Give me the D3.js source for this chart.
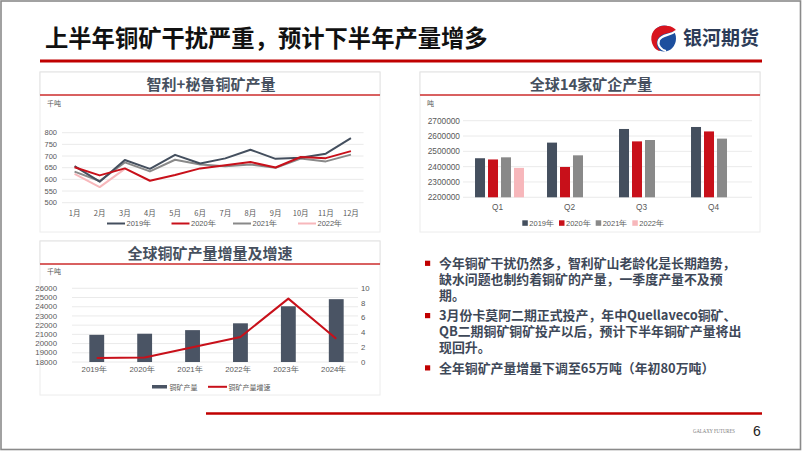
<!DOCTYPE html>
<html><head><meta charset="utf-8">
<script src="https://cdn.jsdelivr.net/npm/d3@7/dist/d3.min.js"></script>
<style>
html,body{margin:0;padding:0;background:#fff;}
svg{display:block;}
</style></head>
<body>
<svg id="c" width="802" height="451"></svg>
<script>
// ---------- DATA ----------
const months = ["1月","2月","3月","4月","5月","6月","7月","8月","9月","10月","11月","12月"];
const lineYears = ["2019年","2020年","2021年","2022年"];
const chileperu2019 = [657,590,683,645,705,668,690,727,688,693,710,777];
const chileperu2020 = [652,617,647,594,619,647,660,674,651,696,691,721];
const chileperu2021 = [633,593,673,634,684,664,656,664,650,689,677,706];
const chileperu2022 = [624,567,645];
const lineTicks = [500,550,600,650,700,750,800];

const quarters = ["Q1","Q2","Q3","Q4"];
const miners2019 = [2455000,2557000,2646000,2659000];
const miners2020 = [2447000,2398000,2565000,2630000];
const miners2021 = [2461000,2474000,2574000,2583000];
const miners2022 = [2392000];
const minerTicks = [2200000,2300000,2400000,2500000,2600000,2700000];

const prodYears = ["2019年","2020年","2021年","2022年","2023年","2024年"];
const globalOutput = [20950,21070,21460,22200,24050,24820];
const globalGrowth = [0.55,0.6,2.0,3.4,8.6,3.15];
const outputTicks = [18000,19000,20000,21000,22000,23000,24000,25000,26000];
const growthTicks = [0,2,4,6,8,10];

const bullets = [
  ["今年铜矿干扰仍然多，智利矿山老龄化是长期趋势，","缺水问题也制约着铜矿的产量，一季度产量不及预","期。"],
  ["3月份卡莫阿二期正式投产，年中Quellaveco铜矿、","QB二期铜矿铜矿投产以后，预计下半年铜矿产量将出","现回升。"],
  ["全年铜矿产量增量下调至65万吨（年初80万吨）"]
];

// ---------- STYLE ----------
const CJK = "'Noto Sans CJK SC','Noto Sans',sans-serif";
const NUM = "'Liberation Sans',Arial,sans-serif";
const cDark = "#444f5e", cRed = "#c8101a", cGray = "#898989", cPink = "#f7b7bb";
const axisTxt = "#595959", grid = "#e4e4e4";
const seriesColors = [cDark, cRed, cGray, cPink];

const svg = d3.select("#c");
svg.append("rect").attr("width",802).attr("height",451).attr("fill","#fff");
svg.append("rect").attr("x",1).attr("y",1).attr("width",799.5).attr("height",448.5)
  .attr("fill","none").attr("stroke","#8a8a8a").attr("stroke-width",1.6);

// header
svg.append("text").attr("x",45).attr("y",47).text("上半年铜矿干扰严重，预计下半年产量增多")
  .attr("font-family",CJK).attr("font-weight","bold").attr("font-size",23.3).attr("fill","#111");
svg.append("line").attr("x1",40).attr("x2",762).attr("y1",61).attr("y2",61)
  .attr("stroke","#c00000").attr("stroke-width",3);

// logo
const logo = svg.append("g");
logo.append("ellipse").attr("cx",664).attr("cy",38.5).attr("rx",12).attr("ry",13).attr("fill","#1d4f9e");
logo.append("path").attr("d","M668,26 C656,24 649,33 652,43 C654,49 658,51 660,51 C655,45 656,38 662,35 C666,33 672,33 676,30 C674,28 671,26 668,26 Z").attr("fill","#d8141e");
logo.append("path").attr("d","M676,31 C670,36 662,34 659,40 C657,45 661,50 666,51").attr("fill","none").attr("stroke","#fff").attr("stroke-width",2.2);
svg.append("text").attr("x",683).attr("y",45).text("银河期货")
  .attr("font-family",CJK).attr("font-size",19).attr("font-weight","bold").attr("fill","#2c3b57");

// panel helper
function panel(x, y, w, h, title, cx) {
  svg.append("rect").attr("x",x).attr("y",y).attr("width",w).attr("height",h)
    .attr("fill","none").attr("stroke","#ececec").attr("stroke-width",1);
  svg.append("rect").attr("x",x).attr("y",y).attr("width",w).attr("height",23)
    .attr("fill","#fff").attr("stroke","#e2e2e2").attr("stroke-width",1);
  svg.append("line").attr("x1",x).attr("x2",x+w).attr("y1",y+23).attr("y2",y+23)
    .attr("stroke","#d03030").attr("stroke-width",1.5);
  svg.append("text").attr("x",cx).attr("y",y+18).attr("text-anchor","middle").text(title)
    .attr("font-family",CJK).attr("font-weight","bold").attr("font-size",15).attr("fill","#46505e");
}

// ---------- Chart 1: line ----------
panel(40,72,340,160,"智利+秘鲁铜矿产量",211);
svg.append("text").attr("x",47).attr("y",106).text("千吨").attr("font-family",CJK).attr("font-size",7).attr("fill",axisTxt);
const x1 = d3.scaleBand().domain(months).range([62,363.5]);
const y1 = d3.scaleLinear().domain([500,800]).range([202.7,132.7]);
const g1 = svg.append("g");
g1.selectAll("line.g").data(lineTicks).join("line").attr("x1",62).attr("x2",363.5)
  .attr("y1",d=>y1(d)).attr("y2",d=>y1(d)).attr("stroke",grid).attr("stroke-width",0.8);
g1.selectAll("text.y").data(lineTicks).join("text").attr("x",57).attr("y",d=>y1(d)+2.7)
  .attr("text-anchor","end").text(d=>d).attr("font-family",NUM).attr("font-size",7.5).attr("fill",axisTxt);
g1.selectAll("text.x").data(months).join("text").attr("x",d=>x1(d)+x1.bandwidth()/2).attr("y",216)
  .attr("text-anchor","middle").text(d=>d).attr("font-family",CJK).attr("font-size",7.5).attr("fill",axisTxt);
const lineSeries = [chileperu2021, chileperu2022, chileperu2019, chileperu2020];
const lineColorOrder = [cGray, cPink, cDark, cRed];
const lineGen = d3.line().x((d,i)=>x1(months[i])+x1.bandwidth()/2).y(d=>y1(d));
lineSeries.forEach((s,k)=>{
  g1.append("path").datum(s).attr("d",lineGen).attr("fill","none")
    .attr("stroke",lineColorOrder[k]).attr("stroke-width",2).attr("stroke-linejoin","round");
});
const leg1 = [107,171.5,233,298];
lineYears.forEach((t,i)=>{
  g1.append("line").attr("x1",leg1[i]).attr("x2",leg1[i]+18).attr("y1",223.5).attr("y2",223.5)
    .attr("stroke",seriesColors[i]).attr("stroke-width",2);
  g1.append("text").attr("x",leg1[i]+19.5).attr("y",226.2).text(t)
    .attr("font-family",NUM).attr("font-size",7.5).attr("fill",axisTxt);
});

// ---------- Chart 2: grouped bars ----------
panel(420,72,340,160,"全球14家矿企产量",591);
svg.append("text").attr("x",427).attr("y",106).text("吨").attr("font-family",CJK).attr("font-size",7).attr("fill",axisTxt);
const x2 = d3.scaleBand().domain(quarters).range([463.5,751.5]).paddingInner(0.32).paddingOuter(0.16);
const x2s = d3.scaleBand().domain(lineYears).range([0,x2.bandwidth()]).paddingInner(0.23);
const y2 = d3.scaleLinear().domain([2200000,2700000]).range([197.3,120.7]);
const g2 = svg.append("g");
g2.selectAll("line").data(minerTicks).join("line").attr("x1",463).attr("x2",752)
  .attr("y1",d=>y2(d)).attr("y2",d=>y2(d)).attr("stroke",grid).attr("stroke-width",0.8);
g2.selectAll("text.y").data(minerTicks).join("text").attr("x",460).attr("y",d=>y2(d)+3)
  .attr("text-anchor","end").text(d=>d).attr("font-family",NUM).attr("font-size",8.3).attr("fill",axisTxt);
const minerSeries = [miners2019, miners2020, miners2021, miners2022];
minerSeries.forEach((s,k)=>{
  g2.selectAll(null).data(s).join("rect")
    .attr("x",(d,i)=>x2(quarters[i])+x2s(lineYears[k]))
    .attr("width",x2s.bandwidth())
    .attr("y",d=>y2(d)).attr("height",d=>y2(2200000)-y2(d))
    .attr("fill",seriesColors[k]);
});
g2.selectAll("text.x").data(quarters).join("text").attr("x",d=>x2(d)+x2.bandwidth()/2-2).attr("y",209.5)
  .attr("text-anchor","middle").text(d=>d).attr("font-family",NUM).attr("font-size",8.3).attr("fill",axisTxt);
const leg2 = [522.3,559,595.7,632.3];
lineYears.forEach((t,i)=>{
  g2.append("rect").attr("x",leg2[i]).attr("y",220.3).attr("width",5.5).attr("height",5.5).attr("fill",seriesColors[i]);
  g2.append("text").attr("x",leg2[i]+7).attr("y",226).text(t)
    .attr("font-family",NUM).attr("font-size",7.5).attr("fill",axisTxt);
});

// ---------- Chart 3: bars + line, dual axis ----------
panel(40,241,340,154,"全球铜矿产量增量及增速",210);
svg.append("text").attr("x",47).attr("y",274).text("千吨").attr("font-family",CJK).attr("font-size",7).attr("fill",axisTxt);
const x3 = d3.scaleBand().domain(prodYears).range([72.8,360.2]).paddingInner(0.69).paddingOuter(0.345);
const y3 = d3.scaleLinear().domain([18000,26000]).range([362,288.3]);
const y3r = d3.scaleLinear().domain([0,10]).range([362,288.3]);
const g3 = svg.append("g");
g3.selectAll("line").data(outputTicks).join("line").attr("x1",72).attr("x2",358)
  .attr("y1",d=>y3(d)).attr("y2",d=>y3(d)).attr("stroke",grid).attr("stroke-width",0.8);
g3.selectAll("text.y").data(outputTicks).join("text").attr("x",57).attr("y",d=>y3(d)+2.7)
  .attr("text-anchor","end").text(d=>d).attr("font-family",NUM).attr("font-size",7.8).attr("fill",axisTxt);
g3.selectAll("text.r").data(growthTicks).join("text").attr("x",361).attr("y",d=>y3r(d)+2.7)
  .text(d=>d).attr("font-family",NUM).attr("font-size",7.8).attr("fill",axisTxt);
g3.selectAll("rect").data(globalOutput).join("rect")
  .attr("x",(d,i)=>x3(prodYears[i])).attr("width",x3.bandwidth())
  .attr("y",d=>y3(d)).attr("height",d=>y3(18000)-y3(d)).attr("fill","#4a5464");
const lineGen3 = d3.line().x((d,i)=>x3(prodYears[i])+x3.bandwidth()/2).y(d=>y3r(d));
g3.append("path").datum(globalGrowth).attr("d",lineGen3).attr("fill","none")
  .attr("stroke",cRed).attr("stroke-width",2).attr("stroke-linejoin","round");
g3.selectAll("text.x").data(prodYears).join("text").attr("x",d=>x3(d)+x3.bandwidth()/2-2.5).attr("y",372)
  .attr("text-anchor","middle").text(d=>d).attr("font-family",NUM).attr("font-size",7.8).attr("fill",axisTxt);
g3.append("rect").attr("x",152).attr("y",385).attr("width",15).attr("height",3.5).attr("fill","#4a5464");
g3.append("text").attr("x",169.5).attr("y",389.5).text("铜矿产量").attr("font-family",CJK).attr("font-size",7).attr("fill",axisTxt);
g3.append("line").attr("x1",208).attr("x2",227).attr("y1",386.8).attr("y2",386.8).attr("stroke",cRed).attr("stroke-width",2);
g3.append("text").attr("x",228.5).attr("y",389.5).text("铜矿产量增速").attr("font-family",CJK).attr("font-size",7).attr("fill",axisTxt);

// ---------- Text block ----------
const tb = svg.append("g");
let yy = 263.3;
bullets.forEach((para)=>{
  tb.append("rect").attr("x",425).attr("y",yy-2.6).attr("width",5.2).attr("height",5.2).attr("fill","#c00000");
  const t = tb.append("text").attr("font-family",CJK).attr("font-weight","bold")
    .attr("font-size",12.9).attr("fill","#3e4858");
  para.forEach((ln,j)=>{
    t.append("tspan").attr("x",439).attr("y",yy+4.6).text(ln);
    yy += (j < para.length-1) ? 16 : 20.3;
  });
});

// footer
svg.append("line").attr("x1",206).attr("x2",762).attr("y1",413.5).attr("y2",413.5)
  .attr("stroke","#c00000").attr("stroke-width",2.5);
svg.append("text").attr("x",693).attr("y",433).text("GALAXY FUTURES")
  .attr("textLength",42).attr("lengthAdjust","spacingAndGlyphs")
  .attr("font-family","'Liberation Serif',serif").attr("font-size",6.4).attr("fill","#7a7a7a");
svg.append("text").attr("x",753).attr("y",436).text("6")
  .attr("font-family",NUM).attr("font-size",14).attr("fill","#222");
</script>
</body></html>
